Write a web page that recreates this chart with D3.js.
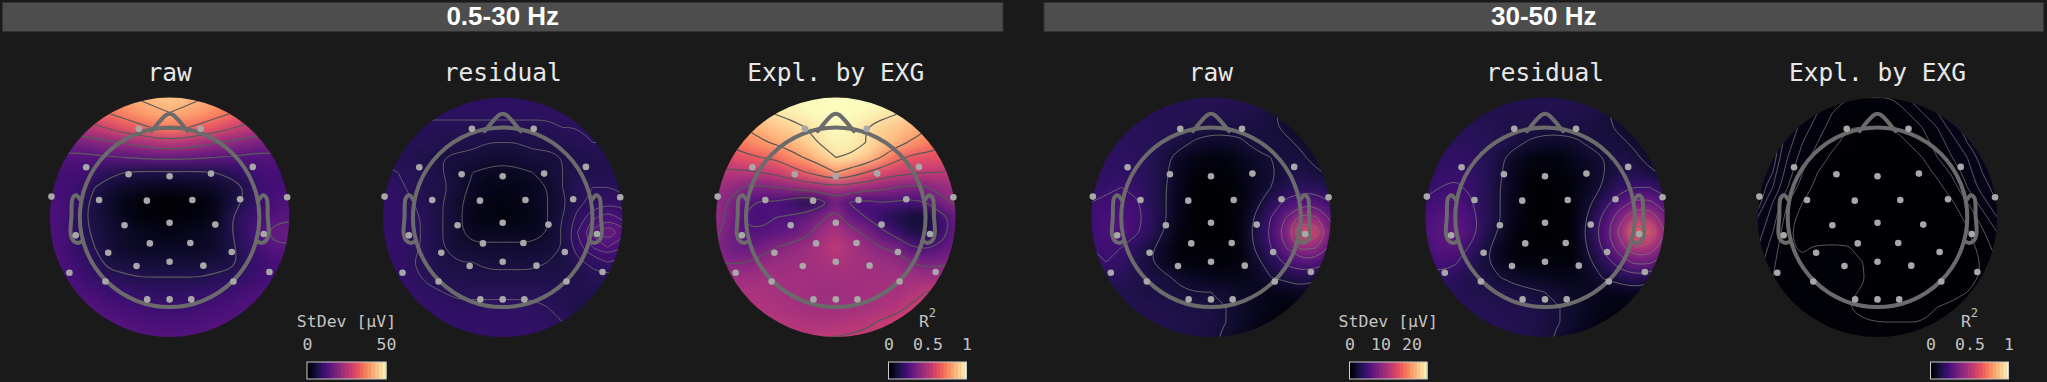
<!DOCTYPE html>
<html>
<head>
<meta charset="utf-8">
<script src="https://cdn.jsdelivr.net/npm/d3@7"></script>
<style>
body { margin: 0; background: #1a1a1a; }
svg { display: block; }
</style>
</head>
<body>
<script>
// every grid: 21 rows x 21 columns, head units -1.25..1.25, values in % of the colour range
var rawLow = [
	[78,78,78,80,82,84,85,87,89,90,91,90,89,87,85,84,82,80,78,78,78],
	[76,76,76,78,80,82,83,85,88,89,90,89,88,85,83,82,80,78,76,76,76],
	[70,70,70,72,74,76,78,81,85,87,88,87,85,81,78,76,74,72,70,70,70],
	[60,60,60,62,64,67,71,75,79,82,84,82,79,75,71,67,64,62,60,60,60],
	[45,45,45,47,50,53,58,63,67,71,73,71,67,63,58,53,50,47,45,45,45],
	[32,32,32,33,35,38,40,43,46,49,51,49,46,43,40,38,35,33,32,32,32],
	[26,26,26,26,25,26,27,28,29,30,30,30,29,28,27,26,25,26,26,26,26],
	[21,21,21,22,22,19,16,14,13,13,13,13,13,14,16,19,22,22,21,21,21],
	[22,22,22,22,20,14,10,8,7,6,5,6,7,8,10,14,20,22,22,22,22],
	[24,24,24,22,17,12,8,4,2,1,0,1,2,4,10,15,19,23,25,25,25],
	[24,24,24,22,16,12,9,5,3,2,1,2,3,5,13,18,22,26,27,27,27],
	[24,24,24,22,16,13,10,8,6,5,4,5,6,8,13,18,25,30,31,30,30],
	[25,25,25,22,17,14,10,8,7,7,7,7,7,8,12,17,23,27,27,27,27],
	[25,25,25,23,20,16,12,11,10,10,10,10,10,11,12,16,20,22,24,24,24],
	[26,26,26,24,21,18,16,15,14,14,14,14,14,15,16,18,21,23,24,24,24],
	[27,27,27,26,24,22,20,19,18,17,17,17,18,19,20,22,24,24,25,25,25],
	[27,27,27,27,26,25,23,22,21,20,20,20,21,22,23,25,25,25,26,26,26],
	[27,27,27,27,27,27,26,25,24,23,23,23,24,25,26,26,26,26,26,26,26],
	[27,27,27,27,27,27,27,27,26,26,26,26,26,27,27,27,27,27,27,27,27],
	[27,27,27,27,27,27,27,27,26,26,26,26,26,27,27,27,27,27,27,27,27],
	[27,27,27,27,27,27,27,27,26,26,26,26,26,27,27,27,27,27,27,27,27]
];
var residualLow = [
	[17,17,17,17,17,17,17,17,17,17,17,17,17,17,17,17,17,17,17,17,17],
	[17,17,17,17,17,17,17,17,17,17,17,17,17,17,17,17,17,17,17,17,17],
	[17,17,17,17,17,17,17,17,17,17,17,17,17,17,17,17,17,17,17,17,17],
	[17,17,17,17,17,17,17,17,17,17,17,17,17,17,17,17,17,17,17,17,17],
	[15,15,15,15,15,15,15,15,15,15,15,15,15,15,16,16,17,17,17,17,17],
	[15,15,15,15,15,15,14,14,13,12,12,12,13,13,14,15,16,16,16,16,16],
	[15,15,15,15,14,13,12,11,11,10,9,10,11,11,12,13,14,14,14,14,14],
	[17,17,17,16,15,14,12,10,8,7,7,7,8,10,12,14,14,14,14,14,14],
	[17,17,17,17,15,14,13,10,7,5,5,5,6,8,12,15,16,16,15,15,15],
	[18,18,18,18,16,14,12,9,6,4,3,4,6,8,11,15,17,18,18,16,16],
	[18,18,18,18,17,15,12,9,5,3,3,3,5,8,12,17,21,24,21,19,18],
	[18,18,18,18,17,15,12,9,6,6,6,6,6,8,13,19,26,31,27,22,20],
	[18,18,18,18,17,15,12,10,9,9,9,9,9,10,12,18,22,25,22,20,18],
	[18,18,18,18,16,15,13,12,12,11,11,11,11,12,12,15,17,19,18,16,15],
	[18,18,18,18,17,15,14,14,13,13,13,13,13,13,13,13,15,15,15,14,14],
	[18,18,18,18,18,17,16,15,15,15,15,15,15,15,14,14,14,14,14,14,14],
	[18,18,18,18,18,18,18,17,17,17,17,17,17,16,15,13,13,13,13,13,13],
	[18,18,18,18,18,18,18,18,18,18,18,18,17,17,16,14,13,13,13,13,13],
	[18,18,18,18,18,18,18,18,18,18,18,18,18,18,17,15,14,13,13,13,13],
	[18,18,18,18,18,18,18,18,18,18,18,18,18,18,17,15,14,13,13,13,13],
	[18,18,18,18,18,18,18,18,18,18,18,18,18,18,17,15,14,13,13,13,13]
];
var explainedLow = [
	[99,99,99,99,99,99,99,99,99,99,99,99,99,99,99,99,99,99,99,99,99],
	[99,99,99,99,99,99,99,99,99,99,99,99,99,99,99,99,99,99,99,99,99],
	[99,99,98,98,98,99,99,99,100,100,100,100,100,99,99,99,98,98,98,99,99],
	[91,91,91,90,90,92,95,97,99,100,100,100,99,97,95,92,90,90,91,91,91],
	[65,65,65,72,81,85,88,91,94,97,100,98,94,91,88,85,82,74,66,66,66],
	[55,55,56,69,74,78,82,85,90,95,98,97,94,89,85,79,74,69,56,55,55],
	[50,50,58,60,63,66,68,76,81,88,94,93,90,80,70,64,62,62,58,50,50],
	[48,48,50,50,50,52,55,60,66,72,80,74,66,60,56,54,52,52,50,48,48],
	[44,44,44,42,37,36,38,41,44,46,48,46,44,41,38,36,37,42,44,44,44],
	[42,42,42,36,27,24,24,20,14,20,33,24,22,25,24,22,25,34,40,42,42],
	[42,42,42,35,24,22,25,26,30,36,42,30,25,18,14,10,10,20,30,36,36],
	[40,40,40,33,26,26,28,30,35,43,48,42,36,28,20,13,12,20,30,34,34],
	[37,37,37,33,30,33,38,41,44,47,52,47,43,38,36,26,24,27,32,35,35],
	[38,38,38,37,38,41,43,44,45,46,48,46,45,44,42,38,35,36,37,38,38],
	[44,44,44,44,44,45,45,45,45,45,45,45,45,45,45,45,43,44,46,46,46],
	[47,47,47,47,47,47,46,45,45,44,44,45,45,46,46,48,52,54,56,56,56],
	[49,49,49,49,49,48,47,46,45,45,45,45,46,47,49,53,56,58,58,58,58],
	[50,50,50,50,50,50,50,49,48,48,48,49,50,53,55,57,58,58,58,58,58],
	[51,51,51,51,51,51,51,51,51,52,52,53,54,55,56,57,58,58,58,58,58],
	[51,51,51,51,51,51,51,51,51,52,52,53,54,55,56,57,58,58,58,58,58],
	[51,51,51,51,51,51,51,51,51,52,52,53,54,55,56,57,58,58,58,58,58]
];
var rawHigh = [
	[15,15,15,15,15,15,15,15,15,15,15,15,15,14,12,10,8,8,8,8,8],
	[15,15,15,15,15,15,15,15,15,15,15,15,15,14,12,10,8,8,8,8,8],
	[15,15,15,15,15,15,15,15,15,15,15,15,15,14,12,10,8,8,8,8,8],
	[15,15,15,15,15,15,15,15,15,15,14,14,14,13,11,8,6,6,6,6,6],
	[16,16,16,16,16,16,15,15,14,13,12,12,12,12,11,9,7,6,6,6,6],
	[16,16,16,16,16,16,15,14,12,9,8,8,9,12,11,11,9,7,6,6,6],
	[16,16,16,17,17,16,15,11,7,4,3,3,6,8,10,12,11,8,7,6,6],
	[16,16,16,17,17,17,15,11,5,2,1,2,4,7,9,12,13,11,9,8,8],
	[17,17,17,19,20,18,15,10,5,1,0,1,3,7,10,14,16,16,13,11,11],
	[18,18,20,21,22,21,15,10,4,1,0,1,3,8,15,22,26,26,20,16,16],
	[20,20,21,23,24,22,17,10,4,1,0,1,3,11,20,30,43,41,28,22,22],
	[21,21,21,23,25,21,16,9,3,1,0,1,3,13,22,37,62,57,34,26,26],
	[20,20,20,21,20,16,11,6,2,1,1,1,3,11,20,30,43,41,28,22,22],
	[19,19,19,20,18,14,10,6,3,2,2,2,3,8,14,22,26,26,20,17,17],
	[17,17,17,16,15,13,12,11,8,6,5,5,5,7,10,12,15,12,10,9,9],
	[16,16,16,15,14,13,12,12,11,10,10,9,7,6,5,5,6,5,5,5,5],
	[15,15,15,15,15,14,14,13,13,12,12,10,8,6,4,3,3,3,3,3,3],
	[14,14,14,14,14,14,14,14,13,13,12,10,8,5,3,2,2,2,2,2,2],
	[13,13,13,13,13,13,13,13,13,12,11,9,6,4,2,2,2,2,2,2,2],
	[13,13,13,13,13,13,13,13,13,12,11,9,6,4,2,2,2,2,2,2,2],
	[13,13,13,13,13,13,13,13,13,12,11,9,6,4,2,2,2,2,2,2,2]
];
var residualHigh = [
	[14,14,14,14,14,14,14,14,14,14,14,14,14,13,11,9,8,8,8,8,8],
	[14,14,14,14,14,14,14,14,14,14,14,14,14,13,11,9,8,8,8,8,8],
	[14,14,14,14,14,14,14,14,14,14,14,14,14,13,11,9,8,8,8,8,8],
	[14,14,14,14,14,14,14,14,14,14,14,14,14,13,11,8,6,6,6,6,6],
	[15,15,15,15,15,15,15,14,13,13,12,12,12,12,11,9,7,6,6,6,6],
	[15,15,15,16,16,16,15,14,12,9,8,8,9,11,12,11,9,7,6,6,6],
	[15,15,15,17,18,17,15,11,7,4,3,3,6,8,10,13,11,8,7,6,6],
	[16,16,16,18,19,18,15,11,5,2,1,2,4,7,10,13,14,11,9,8,8],
	[18,18,18,20,21,19,15,10,5,1,0,1,3,7,11,17,20,20,15,12,12],
	[20,20,21,23,24,21,15,10,4,1,0,1,3,9,17,25,32,32,24,18,18],
	[22,22,23,26,27,23,16,10,4,1,0,1,3,12,23,36,50,48,34,25,25],
	[23,23,24,27,30,24,15,9,3,1,0,1,3,14,26,43,68,63,40,30,30],
	[22,22,23,26,27,19,12,6,2,1,1,1,3,12,23,36,50,48,34,25,25],
	[21,21,21,23,21,15,11,6,3,2,2,2,3,9,16,25,32,32,24,18,18],
	[18,18,18,18,16,14,12,10,8,7,6,5,5,7,11,14,17,14,10,9,9],
	[17,17,17,16,15,14,13,13,12,11,10,9,7,6,5,5,6,5,5,5,5],
	[16,16,16,16,16,15,15,14,14,13,12,10,8,6,4,3,3,3,3,3,3],
	[15,15,15,15,15,15,15,15,14,14,12,10,8,5,3,2,2,2,2,2,2],
	[14,14,14,14,14,14,14,14,14,13,11,9,6,4,2,2,2,2,2,2,2],
	[14,14,14,14,14,14,14,14,14,13,11,9,6,4,2,2,2,2,2,2,2],
	[14,14,14,14,14,14,14,14,14,13,11,9,6,4,2,2,2,2,2,2,2]
];
var explainedHigh = [
	[5,5,5,5,5,4,3,2,2,2,2,2,3,4,5,6,6,6,6,6,6],
	[5,5,5,5,5,4,3,2,2,2,2,2,3,4,5,6,6,6,6,6,6],
	[5,5,5,5,5,4,3,2,2,2,2,2,3,4,5,6,6,6,6,6,6],
	[6,6,6,6,5,4,3,2,1.5,1.5,1.5,1.5,2,3,4,5,6,6,6,6,6],
	[7,7,7,6,5,3.5,2.5,1.5,1,1,1,1,1.5,2,3,4.5,5.5,6,6,6,6],
	[7,7,7,6,4.5,3,2,1.2,0.8,0.5,0.5,0.7,1,1.5,2.5,3.5,5,6,6,6,6],
	[7,7,7,6,4,2.5,1.5,0.8,0.4,0.2,0.2,0.3,0.6,1,2,3,4,5.5,6,6,6],
	[7,7,7,5.5,3.5,2,1,0.5,0.2,0.1,0.1,0.1,0.3,0.6,1.2,2.2,3.5,5,6,6,6],
	[7,7,6,5,3,1.5,0.7,0.3,0.1,0,0,0,0.1,0.3,0.7,1.5,3,4.5,5.5,6,6],
	[6.5,6.5,6,4,2,1,0.4,0.2,0,0,0,0,0,0.2,0.4,0.9,2,3.5,5,5.5,5.5],
	[6,6,5,3.5,1.5,0.6,0.3,0.1,0,0,0,0,0,0.1,0.3,0.6,1.2,2.5,4,5,5],
	[6,6,4.5,3,1.2,0.5,0.2,0.1,0,0,0,0,0,0.1,0.2,0.4,0.9,1.8,3,4,4],
	[6,5.5,4,2.5,1.1,0.9,1.1,1.2,1.1,0.5,0.1,0,0,0,0.1,0.3,0.6,1.3,2.5,3.5,3.5],
	[5,5,3.5,2.2,1.2,1.1,1.3,1.4,1.3,1,0.3,0.1,0,0.1,0.2,0.3,0.5,1.1,2,3,3],
	[4,4,3,2,1.3,1.2,1.3,1.4,1.3,1.1,0.4,0.2,0.1,0.2,0.3,0.4,0.6,1.1,1.8,2.5,2.5],
	[3.5,3.5,2.5,1.8,1.4,1.3,1.3,1.3,1.2,0.9,0.4,0.3,0.2,0.3,0.5,0.7,1,1.3,1.6,2,2],
	[3,3,2.2,1.8,1.5,1.4,1.3,1.2,1,0.7,0.6,0.6,0.6,0.8,1,1.2,1.4,1.5,1.6,1.8,1.8],
	[2.5,2.5,1.8,1.7,1.6,1.5,1.4,1.3,1.2,1.1,1,1,1,1,1.1,1.2,1.3,1.5,1.6,1.7,1.8],
	[2,2,2,1.8,1.7,1.6,1.5,1.5,1.4,1.3,1.3,1.3,1.3,1.4,1.4,1.5,1.6,1.7,1.8,1.8,1.8],
	[2,2,2,1.8,1.7,1.6,1.5,1.5,1.4,1.3,1.3,1.3,1.3,1.4,1.4,1.5,1.6,1.7,1.8,1.8,1.8],
	[2,2,2,1.8,1.7,1.6,1.5,1.5,1.4,1.3,1.3,1.3,1.3,1.4,1.4,1.5,1.6,1.7,1.8,1.8,1.8]
];

var bands = ['0.5-30 Hz', '30-50 Hz'];
var mapTitles = ['raw', 'residual', 'Expl. by EXG', 'raw', 'residual', 'Expl. by EXG'];
var mapGrids = [rawLow, residualLow, explainedLow, rawHigh, residualHigh, explainedHigh];
var mapLevels = [
	[14, 28, 42, 56, 70, 84],
	[8, 12, 16, 19, 22, 25, 28],
	[25, 38, 52, 66, 80, 94],
	[10, 20, 30, 40, 50, 60],
	[10, 20, 30, 40, 50, 60, 66],
	[1, 2, 3, 4, 5, 5.5]
];

// electrodes, head units (x right, y down)
var sensorX = [-0.257,0.259,-0.697,0.695,-0.343,0,0.346,-0.987,0.982,-0.589,-0.19,0.19,0.589,-0.377,0,0.382,-0.784,0.787,-0.165,0.173,-0.513,0.519,-0.276,0,0.282,-0.837,0.834,-0.536,0.533,-0.187,0,0.181];
var sensorY = [-0.739,-0.739,-0.418,-0.421,-0.36,-0.343,-0.365,-0.173,-0.167,-0.145,-0.139,-0.145,-0.151,0.067,0.045,0.061,0.151,0.139,0.218,0.215,0.296,0.29,0.407,0.371,0.404,0.463,0.457,0.536,0.536,0.686,0.686,0.686];

var headRadius = 0.75;
var noseX = [-0.15, -0.03, 0, 0.03, 0.15];
var noseY = [-0.72, -0.855, -0.865, -0.855, -0.72];
var earX = [-0.75, -0.78, -0.81, -0.82, -0.827, -0.807, -0.765, -0.723];
var earY = [-0.15, -0.184, -0.16, -0.005, 0.14, 0.193, 0.215, 0.195];

var stdevLabel = 'StDev [μV]';
var lowStdevMax = 50;
var lowStdevTicks = [0, 50];
var highStdevMax = 25;
var highStdevTicks = [0, 10, 20];
var r2Ticks = [0, 0.5, 1];

var width = 2047;
var height = 382;
var mapCenters = [169.6, 502.7, 835.8, 1211, 1545, 1877.5];
var mapY = 217.3;
var mapRadius = 119.7;
var gridSize = 21;
var monoFont = '"DejaVu Sans Mono", monospace';

var contourStyle = [
	{ color: '#5c5c5c', width: 1.2 },
	{ color: '#6e6e6e', width: 0.8 },
	{ color: '#585858', width: 1.2 },
	{ color: '#777777', width: 0.8 },
	{ color: '#777777', width: 0.8 },
	{ color: '#808080', width: 0.7 }
];

var svg = d3.select('body').append('svg')
	.attr('width', width)
	.attr('height', height)
	.style('background', '#1a1a1a');

var defs = svg.append('defs');

defs.append('filter')
	.attr('id', 'smooth')
	.attr('x', '-10%').attr('y', '-10%')
	.attr('width', '120%').attr('height', '120%')
	.attr('color-interpolation-filters', 'sRGB')
	.append('feGaussianBlur')
	.attr('stdDeviation', 6);

var color = d3.scaleSequential(d3.interpolateMagma).domain([0, 100]);

function drawHeader(name, x0, x1) {
	svg.append('rect')
		.attr('x', x0).attr('y', 2.5)
		.attr('width', x1 - x0).attr('height', 29)
		.attr('fill', '#4d4d4d')
		.attr('stroke', '#333333');

	svg.append('text')
		.attr('x', (x0 + x1) / 2)
		.attr('y', 25)
		.attr('text-anchor', 'middle')
		.attr('fill', '#ffffff')
		.attr('font-family', '"Liberation Sans", Arial, sans-serif')
		.attr('font-weight', 'bold')
		.attr('font-size', 26)
		.text(name);
}

function drawMap(index) {
	var grid = mapGrids[index];
	var cx = mapCenters[index];
	var style = contourStyle[index];

	// head units to pixels
	var xScale = d3.scaleLinear().domain([-1, 1]).range([cx - mapRadius, cx + mapRadius]);
	var yScale = d3.scaleLinear().domain([-1, 1]).range([mapY - mapRadius, mapY + mapRadius]);
	// grid units to pixels, the grid reaches 1.25 head units out
	var colScale = d3.scaleLinear().domain([0, gridSize]).range([xScale(-1.3125), xScale(1.3125)]);
	var rowScale = d3.scaleLinear().domain([0, gridSize]).range([yScale(-1.3125), yScale(1.3125)]);

	svg.append('text')
		.attr('x', cx)
		.attr('y', 81)
		.attr('text-anchor', 'middle')
		.attr('fill', '#e8e8e8')
		.attr('font-family', monoFont)
		.attr('font-size', 24.5)
		.text(mapTitles[index]);

	defs.append('clipPath')
		.attr('id', 'clip' + index)
		.append('circle')
		.attr('cx', cx).attr('cy', mapY).attr('r', mapRadius);

	var field = svg.append('g').attr('clip-path', 'url(#clip' + index + ')');

	var cells = [];
	grid.forEach(function(row, j) {
		row.forEach(function(value, i) {
			cells.push({ i: i, j: j, value: value });
		});
	});

	field.append('g')
		.attr('filter', 'url(#smooth)')
		.selectAll('rect')
		.data(cells).enter()
		.append('rect')
		.attr('x', function(d) { return colScale(d.i); })
		.attr('y', function(d) { return rowScale(d.j); })
		.attr('width', colScale(1) - colScale(0) + 0.5)
		.attr('height', rowScale(1) - rowScale(0) + 0.5)
		.attr('fill', function(d) { return color(d.value); });

	var contours = d3.contours()
		.size([gridSize, gridSize])
		.thresholds(mapLevels[index])(d3.merge(grid));

	var ringLine = d3.line()
		.curve(d3.curveBasisClosed)
		.x(function(d) { return colScale(d[0]); })
		.y(function(d) { return rowScale(d[1]); });

	contours.forEach(function(contour) {
		contour.coordinates.forEach(function(polygon) {
			polygon.forEach(function(ring) {
				field.append('path')
					.attr('d', ringLine(ring.slice(0, -1)))
					.attr('fill', 'none')
					.attr('stroke', style.color)
					.attr('stroke-width', style.width);
			});
		});
	});

	// head outline
	var outline = svg.append('g')
		.attr('fill', 'none')
		.attr('stroke', '#6b6b6b')
		.attr('stroke-width', 4)
		.attr('stroke-linecap', 'round');

	outline.append('circle')
		.attr('cx', xScale(0)).attr('cy', yScale(0))
		.attr('r', xScale(headRadius) - xScale(0));

	var profile = d3.line().curve(d3.curveCatmullRom);

	outline.append('path')
		.attr('d', profile(noseX.map(function(x, i) { return [xScale(x), yScale(noseY[i])]; })));
	outline.append('path')
		.attr('d', profile(earX.map(function(x, i) { return [xScale(x), yScale(earY[i])]; })));
	outline.append('path')
		.attr('d', profile(earX.map(function(x, i) { return [xScale(-x), yScale(earY[i])]; })));

	svg.append('g')
		.selectAll('circle')
		.data(sensorX).enter()
		.append('circle')
		.attr('cx', function(d) { return xScale(d); })
		.attr('cy', function(d, i) { return yScale(sensorY[i]); })
		.attr('r', 3.3)
		.attr('fill', '#a8a8a8');
}

function drawColorbar(left, right, max, ticks, format, label) {
	var xScale = d3.scaleLinear().domain([0, max]).range([left, right]);
	var stepScale = d3.scaleLinear().domain([0, 100]).range([left, right]);

	svg.append('g')
		.selectAll('rect')
		.data(d3.range(100)).enter()
		.append('rect')
		.attr('x', function(d) { return stepScale(d); })
		.attr('y', 362)
		.attr('width', stepScale(1) - stepScale(0) + 0.5)
		.attr('height', 17)
		.attr('fill', function(d) { return color(d); });

	svg.append('rect')
		.attr('x', left).attr('y', 362)
		.attr('width', right - left).attr('height', 17)
		.attr('fill', 'none')
		.attr('stroke', '#cccccc');

	var axis = svg.append('g')
		.attr('transform', 'translate(0,350)')
		.call(d3.axisTop(xScale).tickValues(ticks).tickFormat(format).tickSize(0).tickPadding(0));

	axis.select('.domain').remove();
	axis.selectAll('text')
		.attr('fill', '#c4c4c4')
		.attr('font-family', monoFont)
		.attr('font-size', 16.5);

	var title = svg.append('text')
		.attr('x', (left + right) / 2)
		.attr('y', 327)
		.attr('text-anchor', 'middle')
		.attr('fill', '#c4c4c4')
		.attr('font-family', monoFont)
		.attr('font-size', 16.5);

	if (label) {
		title.text(label);
	} else {
		title.append('tspan').text('R');
		title.append('tspan').attr('dy', -10).attr('font-size', 12).text('2');
	}
}

drawHeader(bands[0], 2.5, 1003);
drawHeader(bands[1], 1044, 2043.5);

d3.range(mapTitles.length).forEach(drawMap);

drawColorbar(307, 386, lowStdevMax, lowStdevTicks, d3.format('d'), stdevLabel);
drawColorbar(888.5, 966.5, 1, r2Ticks, d3.format('~g'), null);
drawColorbar(1349.5, 1427, highStdevMax, highStdevTicks, d3.format('d'), stdevLabel);
drawColorbar(1930.5, 2008.5, 1, r2Ticks, d3.format('~g'), null);
</script>
</body>
</html>
